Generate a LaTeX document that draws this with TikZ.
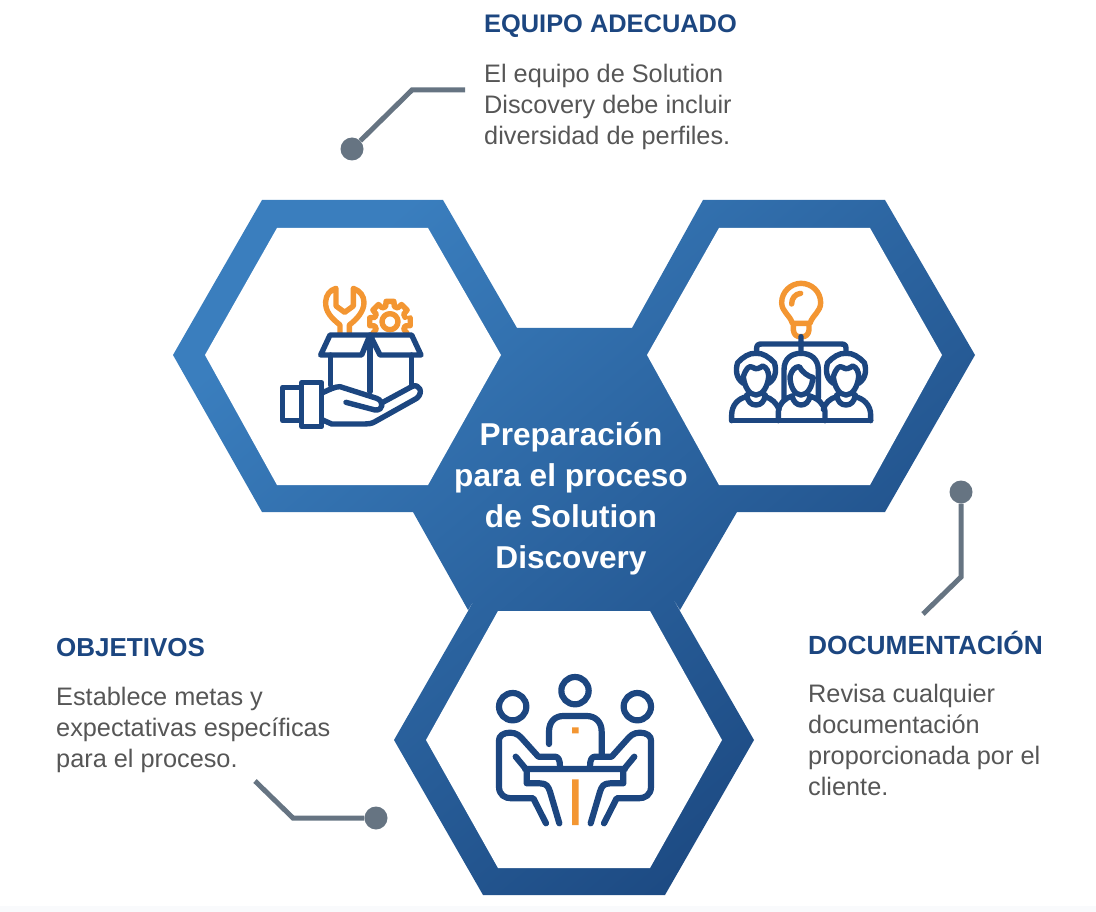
\documentclass[tikz,border=0pt]{standalone}
\usepackage{xcolor}
\usepackage{fontspec}
\setmainfont{Liberation Sans}
\definecolor{hexlight}{HTML}{3A7EBE}
\definecolor{hexdark}{HTML}{1B477F}
\definecolor{navy}{HTML}{1C4680}
\definecolor{amber}{HTML}{F39632}
\definecolor{lead}{HTML}{667482}
\definecolor{bodytext}{HTML}{565656}
\definecolor{footstrip}{HTML}{F9FAFC}

\begin{document}
\begin{tikzpicture}[x=1pt,y=-1pt,
  title node/.style={anchor=base west,inner sep=0pt,text=navy,
  font=\fontsize{26}{30}\selectfont\bfseries},
  copy node/.style={anchor=north west,inner sep=0pt,text=bodytext,align=left,
  font=\fontsize{25.3}{31}\selectfont},
  dot node/.style={circle,fill=lead,minimum size=23pt,inner sep=0pt},
  leader/.style={draw=lead,line width=5pt},
  ring/.style={fill=white},
  blue icon/.style={draw=navy,line width=5.4pt,line cap=round,line join=round},
  amber icon/.style={draw=amber,line width=5.4pt,line cap=round,line join=round}]

  \useasboundingbox (0,0) rectangle (1096,912);
  \fill[footstrip] (0,906) rectangle (1096,912);

  % blue hexagons as a single shaded shape
  \shade[shading=axis,top color=hexlight,bottom color=hexdark,shading angle=40]
    (173,355) -- (262,200) -- (443,200) -- (517,328) -- (632,328) -- (703,200)
    -- (885,200) -- (975,355) -- (885,512) -- (737,512) -- (680,610)
    -- (665,585) -- (754,740) -- (665,895) -- (483,895) -- (394,740) -- (483,585)
    -- (468,610) -- (413,512) -- (262,512) -- cycle;
  \fill[ring] (205,355) -- (277,228) -- (428,228) -- (501,355) -- (428,485) -- (277,485) -- cycle;
  \fill[ring] (647,355) -- (719,228) -- (870,228) -- (942,355) -- (870,485) -- (719,485) -- cycle;
  \fill[ring] (426,740) -- (498,611) -- (650,611) -- (722,740) -- (650,868) -- (498,868) -- cycle;

  \node[text=white,align=center,inner sep=0pt,
    font=\fontsize{31.6}{41}\selectfont\bfseries] (Center) at (571,499)
    {Preparación\\para el proceso\\de Solution\\Discovery};

  % texts
  \node[title node,font=\fontsize{25.4}{30}\selectfont\bfseries] (EquipoTitle) at (484,33) {EQUIPO ADECUADO};
  \node[copy node] (EquipoCopy) at (484,64)
    {El equipo de Solution\\Discovery debe incluir\\diversidad de perfiles.};
  \node[title node,font=\fontsize{26.3}{30}\selectfont\bfseries] (DocTitle) at (808,654) {DOCUMENTACIÓN};
  \node[copy node] (DocCopy) at (808,684)
    {Revisa cualquier\\documentación\\proporcionada por el\\cliente.};
  \node[title node] (ObjTitle) at (56,656) {OBJETIVOS};
  \node[copy node] (ObjCopy) at (56,687)
    {Establece metas y\\expectativas específicas\\para el proceso.};

  % leader lines
  \node[dot node] (EquipoDot) at (352,149) {};
  \coordinate (EquipoKnee) at (412,90);
  \coordinate (EquipoEnd) at (465,90);
  \draw[leader] (EquipoDot) -- (EquipoKnee) -- (EquipoEnd);
  \node[dot node] (DocDot) at (961,492) {};
  \coordinate (DocKnee) at (961,577);
  \coordinate (DocEnd) at (923,614);
  \draw[leader] (DocDot) -- (DocKnee) -- (DocEnd);
  \node[dot node] (ObjDot) at (376,818) {};
  \coordinate (ObjKnee) at (293,818);
  \coordinate (ObjEnd) at (255,781);
  \draw[leader] (ObjDot) -- (ObjKnee) -- (ObjEnd);

  % box with tools
  \begin{scope}[shift={(260,270)},scale=1/3]
    \draw[amber icon] (240,187) -- (240,165) .. controls (215,145) and (195,125) .. (197,95)
      .. controls (198,75) and (210,60) .. (228,55) -- (228,108) -- (254,127) -- (280,108) -- (280,55)
      .. controls (300,62) and (312,78) .. (312,97) .. controls (312,125) and (290,148) .. (268,165) -- (268,187);
    \begin{scope}
      \clip (300,80) rectangle (480,187);
      \draw[amber icon,shift={(390,155)}] (-10:60)
        \foreach \ang in {0,45,...,315} { -- (\ang-11:62) -- (\ang+11:62) -- (\ang+16:47) -- (\ang+29:47) };
      \draw[amber icon] (390,155) circle (24);
    \end{scope}
    \draw[blue icon] (210,195) -- (455,195) -- (483,255) -- (360,255) -- (330,195)
      -- (305,255) -- (182,255) -- cycle;
    \draw[blue icon] (212,255) -- (212,345) (455,255) -- (455,350) (330,195) -- (330,365);
    \draw[blue icon] (68,352) rectangle (125,452) (125,338) rectangle (185,470);
    \draw[blue icon] (188,368) .. controls (210,358) and (225,350) .. (240,350) -- (350,385)
      .. controls (372,393) and (372,422) .. (345,420) -- (258,397)
      (372,395) -- (455,350) .. controls (478,338) and (492,368) .. (470,385) -- (345,455)
      .. controls (335,461) and (325,462) .. (315,462) -- (215,462) -- (188,450);
  \end{scope}

  % team with idea
  \begin{scope}[shift={(710,270)},scale=1/3]
    \draw[amber icon] (247,160) .. controls (240,135) and (215,125) .. (215,98)
      .. controls (215,65) and (243,40) .. (273,40) .. controls (305,40) and (332,65) .. (332,98)
      .. controls (332,125) and (308,135) .. (300,160) -- cycle
      (250,165) -- (250,180) .. controls (252,195) and (260,200) .. (270,200) -- (277,200)
      .. controls (287,200) and (295,195) .. (297,180) -- (297,165)
      (245,102) .. controls (245,85) and (255,72) .. (272,70);
    \draw[blue icon] (273,200) -- (273,250) (140,245) -- (140,235)
      .. controls (140,225) and (145,222) .. (155,222) -- (393,222) .. controls (403,222) and (408,225) .. (408,235) -- (408,245);
    \draw[blue icon] (65,452) -- (482,452);
    % the two outer people
    \foreach \px in {138,408} {
      \draw[blue icon,shift={(\px,0)}]
        (-38,340) .. controls (-60,325) and (-62,300) .. (-55,278) .. controls (-40,262) and (-20,248) .. (0,250)
        .. controls (20,248) and (40,262) .. (55,278) .. controls (62,300) and (60,325) .. (38,340)
        (-38,320) .. controls (-30,295) and (-20,285) .. (-10,292) .. controls (0,300) and (10,295) .. (20,288)
        .. controls (32,292) and (38,305) .. (38,320)
        (-38,320) .. controls (-35,350) and (-20,375) .. (0,375) .. controls (20,375) and (35,350) .. (38,320)
        (-28,375) .. controls (-25,395) and (-15,405) .. (0,405) .. controls (15,405) and (25,395) .. (28,375);
    }
    \draw[blue icon] (65,452) -- (65,435) .. controls (65,405) and (85,385) .. (110,380)
      (165,380) .. controls (185,385) and (200,400) .. (207,418)
      (380,380) .. controls (360,385) and (345,400) .. (340,418)
      (435,380) .. controls (460,385) and (482,405) .. (482,435) -- (482,452);
    % the person in the middle
    \draw[blue icon] (222,385) -- (222,300) .. controls (222,265) and (245,250) .. (273,250)
      .. controls (300,250) and (325,265) .. (325,300) -- (325,385)
      (240,320) .. controls (245,300) and (255,290) .. (268,290) .. controls (275,305) and (295,320) .. (308,322)
      (240,320) .. controls (240,350) and (255,375) .. (273,375) .. controls (292,375) and (308,350) .. (308,322)
      (246,378) .. controls (250,395) and (260,405) .. (273,405) .. controls (287,405) and (297,395) .. (300,378)
      (205,452) -- (205,425) .. controls (207,400) and (225,385) .. (246,378)
      (300,378) .. controls (322,385) and (342,400) .. (345,425) -- (345,452);
  \end{scope}

  % people around a table
  \begin{scope}[shift={(480,660)},scale=1/3]
    \fill[amber] (276,358) rectangle (296,495) (276,202) rectangle (296,220);
    \draw[blue icon,line width=6.2pt] (98,140) circle (41) (285,92) circle (41) (472,140) circle (41);
    \draw[blue icon,line width=6.2pt] (207,252) -- (207,215) .. controls (207,185) and (225,168) .. (250,168) -- (320,168)
      .. controls (345,168) and (365,185) .. (365,215) -- (365,285) (135,327) -- (435,327);
    \foreach \sgn in {1,-1} {
      \draw[blue icon,line width=6.2pt,shift={(285,0)},xscale=\sgn]
        (-228,240) .. controls (-228,228) and (-215,218) .. (-195,218) .. controls (-175,218) and (-165,228) .. (-155,240)
        -- (-110,290) -- (-60,290) .. controls (-50,290) and (-45,300) .. (-45,320)
        (-228,240) -- (-228,380) .. controls (-228,405) and (-210,415) .. (-190,415) -- (-125,415) -- (-87,490)
        (-178,290) -- (-145,330) -- (-145,370) -- (-105,370) .. controls (-85,370) and (-80,380) .. (-75,395) -- (-47,490);
    }
  \end{scope}
\end{tikzpicture}
\end{document}
